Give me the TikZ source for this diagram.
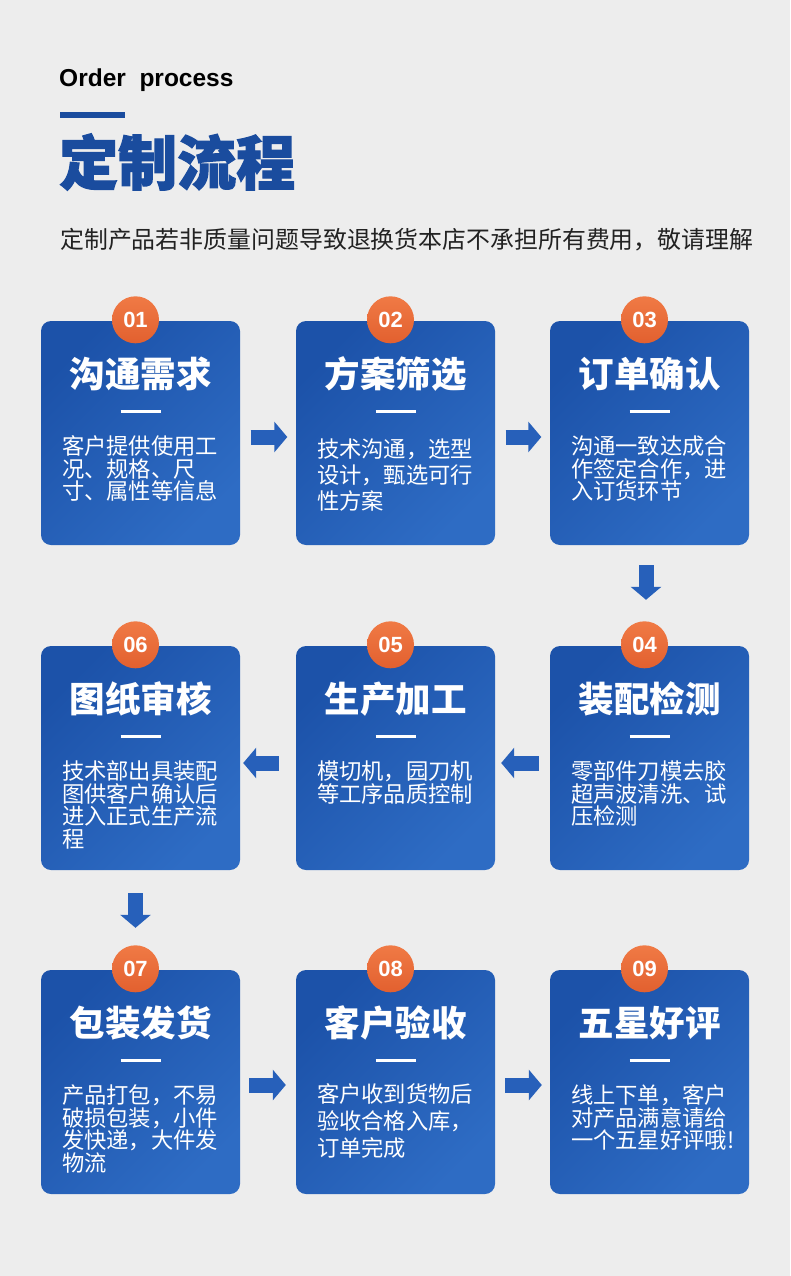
\documentclass[tikz,border=0pt]{standalone}
\usepackage{fontspec}
\setmainfont{Liberation Sans}
\newfontfamily\cjk{Noto Sans CJK SC}
\newfontfamily\cjkheavy[BoldFeatures={FakeBold=2}]{Noto Sans CJK SC}
\usetikzlibrary{arrows.meta}
\definecolor{bg}{HTML}{EDEDED}
\definecolor{boxdark}{HTML}{1C52A9}
\definecolor{boxlight}{HTML}{2E6CC4}
\definecolor{badgelight}{HTML}{F07A45}
\definecolor{badgedark}{HTML}{E2602F}
\definecolor{arrowblue}{HTML}{2760BA}
\definecolor{headblue}{HTML}{1A4C9E}
\definecolor{subgray}{HTML}{222222}
\tikzset{
	stepbox/.style={rounded corners=10pt, minimum width=199pt, minimum height=224pt, inner sep=0pt,
		top color=boxdark, bottom color=boxlight, shading angle=45},
	badge/.style={circle, minimum size=47pt, inner sep=0pt, top color=badgelight, bottom color=badgedark,
		text=white, font=\bfseries\fontsize{22}{22}\selectfont},
	steptitle/.style={text=white, inner sep=0pt, font=\cjk\bfseries\fontsize{35.5}{35.5}\selectfont},
	stepdesc/.style={text=white, anchor=north west, align=left, inner sep=0pt},
	flowarrow/.style={draw=arrowblue, line width=15pt, -{Triangle[length=13pt,width=30pt]}},
}
% one card: number, x, y, title, line skip, text offset, text
\newcommand{\stepcard}[7]{
	\node[stepbox] (b#1) at (#2,#3) {};
	\node[badge] (n#1) at ([xshift=-5pt,yshift=1pt]b#1.north) {#1};
	\node[steptitle] (t#1) at ([yshift=-53pt]b#1.north) {#4};
	\draw[white, line width=3pt] ([xshift=-20pt,yshift=-91pt]b#1.north) -- ([xshift=20pt,yshift=-91pt]b#1.north);
	\node[stepdesc, font=\cjk\fontsize{22.3}{#5}\selectfont] (d#1) at ([xshift=21pt,yshift=-#6pt]b#1.north west) {#7};
}
\begin{document}
\begin{tikzpicture}[x=1pt,y=-1pt]
	%background
	\fill[bg] (0,0) rectangle (790,1276);
	\useasboundingbox (0,0) rectangle (790,1276);
	
	%heading
	\node[anchor=west, inner sep=0pt, font=\bfseries\fontsize{24.5}{24.5}\selectfont] (eng) at (59,80) {Order\ \ process};
	\fill[headblue] (60,112) rectangle (125,118);
	\node[anchor=west, inner sep=0pt, text=headblue, font=\cjkheavy\bfseries\fontsize{59}{59}\selectfont] (head) at (59,162) {定制流程};
	\node[anchor=west, inner sep=0pt, text=subgray, font=\cjk\fontsize{23.9}{26}\selectfont] (note) at (60,240) {定制产品若非质量问题导致退换货本店不承担所有费用，敬请理解};
	
	%steps
	\stepcard{01}{140.5}{433}{沟通需求}{22.5}{115}{客户提供使用工\\况、规格、尺\\寸、属性等信息}
	\stepcard{02}{395.5}{433}{方案筛选}{26}{118}{技术沟通，选型\\设计，甄选可行\\性方案}
	\stepcard{03}{649.5}{433}{订单确认}{22.5}{115}{沟通一致达成合\\作签定合作，进\\入订货环节}
	\stepcard{06}{140.5}{758}{图纸审核}{22.5}{115}{技术部出具装配\\图供客户确认后\\进入正式生产流\\程}
	\stepcard{05}{395.5}{758}{生产加工}{22.5}{115}{模切机，园刀机\\等工序品质控制}
	\stepcard{04}{649.5}{758}{装配检测}{22.5}{115}{零部件刀模去胶\\超声波清洗、试\\压检测}
	\stepcard{07}{140.5}{1082}{包装发货}{22.5}{115}{产品打包，不易\\破损包装，小件\\发快递，大件发\\物流}
	\stepcard{08}{395.5}{1082}{客户验收}{27}{114}{客户收到货物后\\验收合格入库，\\订单完成}
	\stepcard{09}{649.5}{1082}{五星好评}{22.5}{115}{线上下单，客户\\对产品满意请给\\一个五星好评哦!}
	
	%arrows
	\draw[flowarrow, shorten <=10.5pt, shorten >=8.5pt] ([yshift=-4pt]b01.east) -- ([yshift=-4pt]b02.west);
	\draw[flowarrow, shorten <=10.5pt, shorten >=8.5pt] ([yshift=-4pt]b02.east) -- ([yshift=-4pt]b03.west);
	\draw[flowarrow, shorten <=20pt, shorten >=46pt] ([xshift=-3.5pt]b03.south) -- ([xshift=-3.5pt]b04.north);
	\draw[flowarrow, shorten <=11pt, shorten >=6pt] ([yshift=-5pt]b04.west) -- ([yshift=-5pt]b05.east);
	\draw[flowarrow, shorten <=17pt, shorten >=3pt] ([yshift=-5pt]b05.west) -- ([yshift=-5pt]b06.east);
	\draw[flowarrow, shorten <=23pt, shorten >=42pt] ([xshift=-5pt]b06.south) -- ([xshift=-5pt]b07.north);
	\draw[flowarrow, shorten <=9pt, shorten >=10pt] ([yshift=-3pt]b07.east) -- ([yshift=-3pt]b08.west);
	\draw[flowarrow, shorten <=10pt, shorten >=8pt] ([yshift=-3pt]b08.east) -- ([yshift=-3pt]b09.west);
\end{tikzpicture}
\end{document}
